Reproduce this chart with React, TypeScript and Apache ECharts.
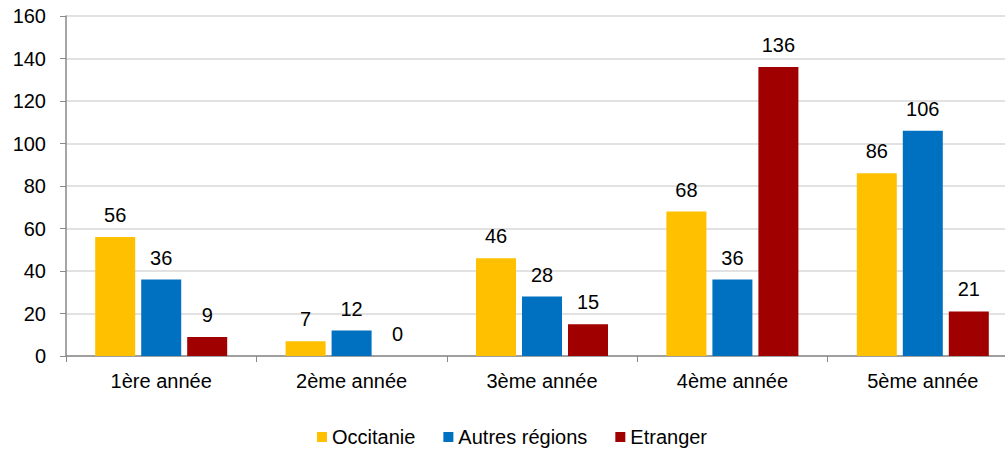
import React, { useEffect, useRef } from "react";
import * as echarts from "echarts";

const categories = ["1ère année", "2ème année", "3ème année", "4ème année", "5ème année"];
const occitanie = [56, 7, 46, 68, 86];
const autresRegions = [36, 12, 28, 36, 106];
const etranger = [9, 0, 15, 136, 21];
const seriesNames = ["Occitanie", "Autres régions", "Etranger"];
const colors = ["#FFC000", "#0070C0", "#A00000"];

const FONT = "Liberation Sans, Arial, sans-serif";

export default function App() {
  const ref = useRef<HTMLDivElement>(null);
  useEffect(() => {
    document.body.style.margin = "0";
    const chart = echarts.init(ref.current!, null, { renderer: "svg" });
    const mk = (name: string, data: number[], color: string) => ({
      name,
      type: "bar",
      data,
      barWidth: 40,
      barGap: "15%",
      itemStyle: { color },
      label: {
        show: true,
        position: "top",
        distance: 12,
        color: "#000",
        fontSize: 20,
        fontFamily: FONT,
      },
    });
    chart.setOption({
      animation: false,
      grid: { left: 66, right: 18, top: 16, bottom: 94 },
      legend: {
        top: 422,
        left: 312,
        itemWidth: 10,
        itemHeight: 10,
        itemGap: 28,
        icon: "rect",
        textStyle: { fontSize: 20, fontFamily: FONT, color: "#000" },
        data: seriesNames,
      },
      xAxis: {
        type: "category",
        data: categories,
        axisLine: { lineStyle: { color: "#898989", width: 1.5 } },
        axisTick: { show: true, length: 6, alignWithLabel: false, lineStyle: { color: "#898989" } },
        axisLabel: { fontSize: 20, fontFamily: FONT, color: "#000", margin: 15 },
      },
      yAxis: {
        type: "value",
        min: 0,
        max: 160,
        interval: 20,
        axisLine: { show: true, lineStyle: { color: "#898989", width: 1.5 } },
        axisTick: { show: true, length: 6, inside: false, lineStyle: { color: "#898989" } },
        axisLabel: { fontSize: 20, fontFamily: FONT, color: "#000", margin: 20 },
        splitLine: { lineStyle: { color: "#D9D9D9", width: 1.5 } },
      },
      series: [
        mk(seriesNames[0], occitanie, colors[0]),
        mk(seriesNames[1], autresRegions, colors[1]),
        mk(seriesNames[2], etranger, colors[2]),
      ],
    });
    return () => chart.dispose();
  }, []);
  return (
    <div style={{ width: 1005, height: 450, overflow: "hidden", position: "relative" }}>
      <div ref={ref} style={{ width: 1036, height: 450 }} />
    </div>
  );
}
